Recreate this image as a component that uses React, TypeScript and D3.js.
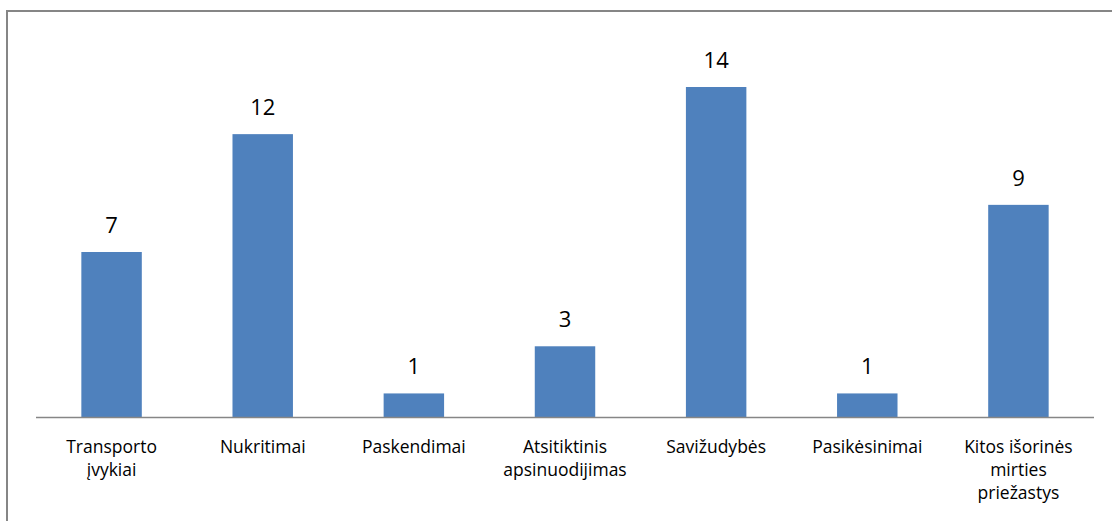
import React from "react";
import * as d3 from "d3";

const categories: string[][] = [
  ["Transporto", "įvykiai"],
  ["Nukritimai"],
  ["Paskendimai"],
  ["Atsitiktinis", "apsinuodijimas"],
  ["Savižudybės"],
  ["Pasikėsinimai"],
  ["Kitos išorinės", "mirties", "priežastys"],
];
const values: number[] = [7, 12, 1, 3, 14, 1, 9];

const W = 1112;
const H = 521;
const plotLeft = 36;
const plotRight = 1094;
const baseY = 417;
const topY = 87;

export default function App() {
  const keys = categories.map((_, i) => String(i));
  const x = d3.scaleBand<string>().domain(keys).range([plotLeft, plotRight]).paddingInner(0.6).paddingOuter(0.3);
  const y = d3.scaleLinear().domain([0, 14]).range([baseY, topY]);
  const font = "'Open Sans', sans-serif";
  return (
    <svg width={W} height={H} style={{ position: "absolute", left: 0, top: 0 }}>
      <rect x={0} y={0} width={W} height={H} fill="#fff" />
      <rect x={7} y={11} width={W + 20} height={H + 20} fill="none" stroke="#868686" strokeWidth={2} />
      {values.map((v, i) => {
        const bx = x(String(i))!;
        return (
          <g key={i}>
            <rect x={bx} y={y(v)} width={x.bandwidth()} height={baseY - y(v)} fill="#4f81bd" />
            <text x={bx + x.bandwidth() / 2} y={y(v) - 19} textAnchor="middle" fontFamily={font} fontSize={22} fill="#000">
              {v}
            </text>
          </g>
        );
      })}
      <line x1={plotLeft} x2={plotRight} y1={baseY + 0.5} y2={baseY + 0.5} stroke="#868686" strokeWidth={1.5} />
      {categories.map((lines, i) => {
        const cx = x(String(i))! + x.bandwidth() / 2;
        return (
          <text key={i} textAnchor="middle" fontFamily={font} fontSize={17.5} fill="#000">
            {lines.map((l, j) => (
              <tspan key={j} x={cx} y={453 + j * 23}>
                {l}
              </tspan>
            ))}
          </text>
        );
      })}
    </svg>
  );
}
